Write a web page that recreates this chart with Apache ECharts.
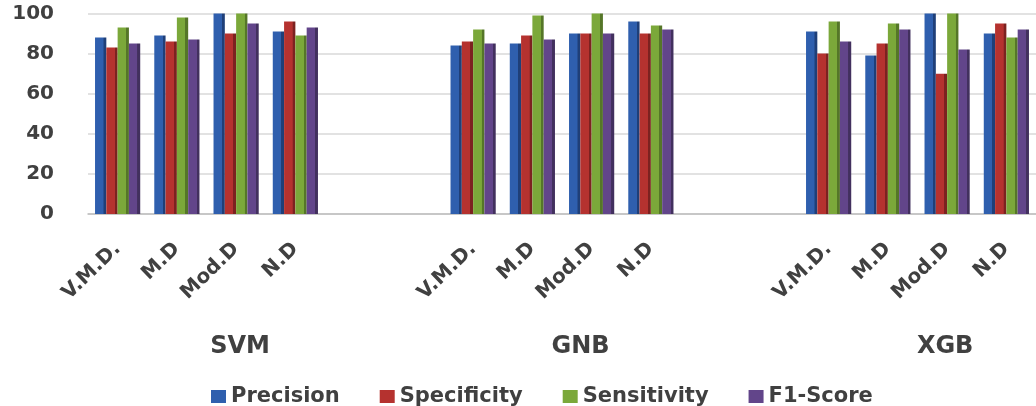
<!DOCTYPE html>
<html><head><meta charset="utf-8">
<script src="https://cdn.jsdelivr.net/npm/echarts@6/dist/echarts.min.js"></script>
<style>html,body{margin:0;padding:0;background:#fff}#c{width:1036px;height:406px}</style>
</head><body><div id="c"></div>
<script>
const groups = ['SVM', 'GNB', 'XGB'];
const subCategories = ['V.M.D.', 'M.D', 'Mod.D', 'N.D'];
const seriesNames = ['Precision', 'Specificity', 'Sensitivity', 'F1-Score'];
const precision   = [88, 89, 100, 91,   84, 85, 90, 96,   91, 79, 100, 90];
const specificity = [83, 86, 90, 96,    86, 89, 90, 90,   80, 85, 70, 95];
const sensitivity = [93, 98, 100, 89,   92, 99, 100, 94,  96, 95, 100, 88];
const f1Score     = [85, 87, 95, 93,    85, 87, 90, 92,   86, 92, 82, 92];
const yTicks = [0, 20, 40, 60, 80, 100];
const gapSlots = 2;

const colors = ['#2f5fae', '#b5322f', '#7ba83a', '#62458a'];
const darks  = ['#1f3f78', '#7c2220', '#557628', '#42305e'];

// build the category axis: 4 sub-categories per group, blank slots between groups
const cats = [], groupAxis = [], slotIndex = [];
groups.forEach((g, gi) => {
  subCategories.forEach((s, si) => {
    slotIndex.push(cats.length);
    cats.push(s);
    groupAxis.push(si === 2 ? g : '');
  });
  if (gi < groups.length - 1) for (let k = 0; k < gapSlots; k++) { cats.push(''); groupAxis.push(''); }
});
function expand(vals) {
  const out = cats.map(() => null);
  vals.forEach((v, i) => { out[slotIndex[i]] = v; });
  return out;
}
const groupPads = { 'SVM': [0, 0, 0, 8], 'GNB': [0, 22, 0, 0], 'XGB': [0, 4, 0, 0] };
const groupData = groupAxis.map(v => v ? { value: v, textStyle: { padding: groupPads[v] } } : v);

const allVals = [precision, specificity, sensitivity, f1Score];
const series = seriesNames.map((n, i) => ({
  name: n,
  type: 'bar',
  data: expand(allVals[i]),
  barWidth: 11.3,
  barGap: '0%',
  itemStyle: {
    color: new echarts.graphic.LinearGradient(0, 0, 1, 0, [
      { offset: 0, color: colors[i] },
      { offset: 0.74, color: colors[i] },
      { offset: 0.76, color: darks[i] },
      { offset: 1, color: darks[i] }
    ])
  }
}));

const chart = echarts.init(document.getElementById('c'), null, { renderer: 'canvas' });
chart.setOption({
  animation: false,
  color: colors,
  textStyle: { fontFamily: 'DejaVu Sans' },
  grid: { left: 88, top: 13.5, height: 200.5, width: 952 },
  legend: {
    left: 206, top: 381,
    itemWidth: 15, itemHeight: 13, itemGap: 40,
    icon: 'rect',
    textStyle: { fontSize: 21, fontWeight: 'bold', color: '#404040', fontFamily: 'DejaVu Sans' },
    data: seriesNames.map((n, i) => ({ name: n, itemStyle: { color: colors[i] } }))
  },
  xAxis: [{
    type: 'category',
    data: cats,
    axisTick: { show: false },
    axisLine: { lineStyle: { color: '#bfbfbf', width: 1.5 } },
    axisLabel: { interval: 0, rotate: 44, margin: 32, fontSize: 20, fontWeight: 'bold', color: '#404040' }
  }, {
    type: 'category',
    data: groupData,
    position: 'bottom',
    offset: 113,
    axisTick: { show: false },
    axisLine: { show: false },
    axisLabel: { interval: 0, margin: 8, fontSize: 24, fontWeight: 'bold', color: '#404040' }
  }],
  yAxis: {
    type: 'value',
    min: yTicks[0], max: yTicks[yTicks.length - 1], interval: yTicks[1] - yTicks[0],
    axisLine: { show: false },
    axisTick: { show: false },
    axisLabel: { fontSize: 20, fontWeight: 'bold', color: '#404040', margin: 34 },
    splitLine: { lineStyle: { color: '#d9d9d9', width: 1.5 } }
  },
  series: series
});
</script></body></html>
